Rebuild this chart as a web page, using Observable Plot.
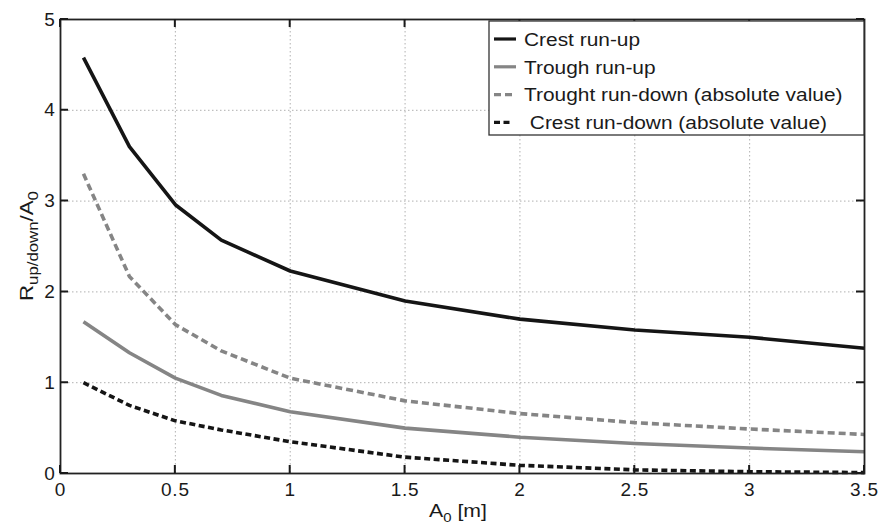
<!DOCTYPE html>
<html>
<head>
<meta charset="utf-8">
<script src="https://cdn.jsdelivr.net/npm/d3@7"></script>
<script src="https://cdn.jsdelivr.net/npm/@observablehq/plot@0.6"></script>
<style>
  body { margin: 0; background: #fff; }
  #chart svg { display: block; font-family: "Liberation Sans", Arial, sans-serif; }
</style>
</head>
<body>
<div id="chart"></div>
<script>
// Wave amplitude A0 [m] and normalised run-up / run-down R/A0
const amplitudes    = [0.1, 0.3, 0.5, 0.7, 1.0, 1.5, 2.0, 2.5, 3.0, 3.5];
const crestRunUp    = [4.58, 3.60, 2.96, 2.57, 2.23, 1.90, 1.70, 1.58, 1.50, 1.38];
const troughRunUp   = [1.67, 1.33, 1.05, 0.86, 0.68, 0.50, 0.40, 0.33, 0.28, 0.24];
const troughRunDown = [3.30, 2.17, 1.64, 1.35, 1.05, 0.80, 0.66, 0.56, 0.49, 0.43];
const crestRunDown  = [1.00, 0.75, 0.58, 0.48, 0.35, 0.18, 0.09, 0.04, 0.02, 0.01];
const seriesNames = [
  "Crest run-up",
  "Trough run-up",
  "Trought run-down (absolute value)",
  " Crest run-down (absolute value)"
];
const xTicks = [0, 0.5, 1, 1.5, 2, 2.5, 3, 3.5];
const yTicks = [0, 1, 2, 3, 4, 5];

const W = 880, H = 525;
const mL = 60, mR = 16, mT = 19, mB = 52;
const innerW = W - mL - mR, innerH = H - mT - mB;
const black = "#151515", gray = "#858585";
const tickLen = 8;

const series = [
  {name: seriesNames[0], values: crestRunUp,    stroke: black, dash: null},
  {name: seriesNames[1], values: troughRunUp,   stroke: gray,  dash: null},
  {name: seriesNames[2], values: troughRunDown, stroke: gray,  dash: "7,4"},
  {name: seriesNames[3], values: crestRunDown,  stroke: black, dash: "6,3.5"}
];
const rows = s => amplitudes.map((a, i) => ({series: s.name, a, r: s.values[i]}));

const chart = Plot.plot({
  width: W, height: H,
  marginLeft: mL, marginRight: mR, marginTop: mT, marginBottom: mB,
  style: {fontFamily: '"Liberation Sans", Arial, sans-serif', fontSize: "19px", color: "#1a1a1a", background: "#fff"},
  x: {domain: [0, 3.5]},
  y: {domain: [0, 5]},
  marks: [
    Plot.gridX(xTicks, {stroke: "#b0b0b0", strokeOpacity: 1, strokeDasharray: "1.5,2.5"}),
    Plot.gridY(yTicks, {stroke: "#b0b0b0", strokeOpacity: 1, strokeDasharray: "1.5,2.5"}),
    ...series.map(s => Plot.line(rows(s), {
      x: "a", y: "r", stroke: s.stroke, strokeWidth: 3.6,
      strokeDasharray: s.dash, strokeLinecap: "butt", strokeLinejoin: "round"
    })),
    Plot.frame({stroke: "#222", strokeWidth: 1.8}),
    Plot.axisX(xTicks, {tickSize: 0, tickPadding: 9, label: null, tickFormat: d => `${d}`, fontSize: 19}),
    Plot.axisY(yTicks, {tickSize: 0, tickPadding: 5, label: null, tickFormat: d => `${d}`, fontSize: 19})
  ]
});

const svg = d3.select(chart);
svg.selectAll("g[aria-label='x-axis tick label'] text, g[aria-label='y-axis tick label'] text")
  .style("letter-spacing", "0.8px");

// Inward tick marks on all four sides of the box, from the plot's scale domains and ranges
const xDesc = chart.scale("x"), yDesc = chart.scale("y");
const fx = d3.scaleLinear(xDesc.domain, xDesc.range ?? [mL, W - mR]);
const fy = d3.scaleLinear(yDesc.domain, yDesc.range ?? [H - mB, mT]);
const boxTop = mT, boxBottom = H - mB, boxLeft = mL, boxRight = W - mR;
const tickPath = [];
xTicks.forEach(t => {
  const px = fx(t);
  tickPath.push(`M${px},${boxBottom}V${boxBottom - tickLen}`, `M${px},${boxTop}V${boxTop + tickLen}`);
});
yTicks.forEach(t => {
  const py = fy(t);
  tickPath.push(`M${boxLeft},${py}H${boxLeft + tickLen}`, `M${boxRight},${py}H${boxRight - tickLen}`);
});
svg.append("path")
  .attr("d", tickPath.join(""))
  .attr("fill", "none").attr("stroke", "#1a1a1a").attr("stroke-width", 2);

// Axis titles
const xt = svg.append("text")
  .attr("transform", `translate(429,517) scale(1.15,1)`)
  .attr("text-anchor", "start")
  .attr("fill", "#1a1a1a").attr("font-size", 18.5);
xt.append("tspan").text("A");
xt.append("tspan").attr("font-size", 13).attr("dy", 5).text("0");
xt.append("tspan").attr("dy", -5).text(" [m]");

const yt = svg.append("text")
  .attr("transform", `translate(33,${mT + innerH / 2}) rotate(-90) scale(1.2,1)`)
  .attr("text-anchor", "middle")
  .attr("fill", "#1a1a1a").attr("font-size", 18.5);
yt.append("tspan").text("R");
yt.append("tspan").attr("font-size", 14).attr("dy", 5).text("up/down");
yt.append("tspan").attr("dy", -5).text("/A");
yt.append("tspan").attr("font-size", 14).attr("dy", 5).text("0");

// Legend box in the upper right corner of the axes
const lgX = 489, lgY = 21, lgW = W - mR - lgX, lgH = 114, rowH = 27.8;
const lg = svg.append("g").attr("text-anchor", "start");
lg.append("rect").attr("x", lgX).attr("y", lgY).attr("width", lgW).attr("height", lgH)
  .attr("fill", "#fff").attr("stroke", "#333").attr("stroke-width", 1.3);
series.forEach((s, i) => {
  const cy = lgY + 18 + i * rowH;
  lg.append("line")
    .attr("x1", lgX + 5).attr("x2", lgX + (s.dash ? 23 : 27))
    .attr("y1", cy).attr("y2", cy)
    .attr("stroke", s.stroke).attr("stroke-width", 3.2)
    .attr("stroke-dasharray", s.dash);
  lg.append("text")
    .attr("transform", `translate(${lgX + 35},${cy + 6.7}) scale(1.13,1)`)
    .attr("font-size", 18.5).attr("fill", "#1a1a1a")
    .style("white-space", "pre")
    .text(s.name);
});

document.getElementById("chart").appendChild(chart);
</script>
</body>
</html>
